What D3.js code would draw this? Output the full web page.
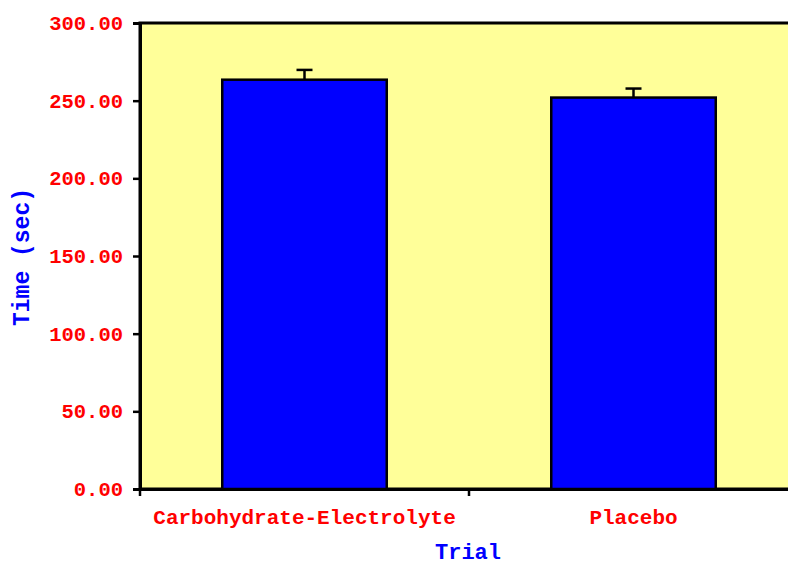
<!DOCTYPE html>
<html><head><meta charset="utf-8">
<script src="https://cdn.jsdelivr.net/npm/d3@7"></script>
<style>body{margin:0;background:#fff}svg{display:block}</style>
</head><body>
<svg id="c" width="788" height="567"></svg>
<script>
const categories = ["Carbohydrate-Electrolyte", "Placebo"];
const means = [263.5, 252.0];
const errors = [6.3, 5.8];
const yTicks = [0, 50, 100, 150, 200, 250, 300];
const xTitle = "Trial";
const yTitle = "Time (sec)";

const svg = d3.select("#c");
const pL = 140, pT = 23, pR = 798, pB = 489;
const font = "'Liberation Mono', 'Courier New', monospace";

const x = d3.scaleBand().domain(categories).range([pL, pR]).paddingInner(0).paddingOuter(0);
const y = d3.scaleLinear().domain([0, 300]).range([pB, pT]);

svg.append("rect").attr("x", pL).attr("y", pT).attr("width", pR - pL).attr("height", pB - pT)
  .attr("fill", "#ffff99").attr("stroke", "#000").attr("stroke-width", 3);

const bw = x.bandwidth() * 0.5;
svg.selectAll(".bar").data(categories).join("rect")
  .attr("x", d => x(d) + (x.bandwidth() - bw) / 2)
  .attr("y", (d, i) => y(means[i]))
  .attr("width", bw)
  .attr("height", (d, i) => y(0) - y(means[i]))
  .attr("fill", "#0000ff").attr("stroke", "#000").attr("stroke-width", 2.5);

const eb = svg.append("g").attr("stroke", "#000").attr("stroke-width", 2.5);
categories.forEach((c, i) => {
  const cx = x(c) + x.bandwidth() / 2;
  eb.append("line").attr("x1", cx).attr("x2", cx).attr("y1", y(means[i])).attr("y2", y(means[i] + errors[i]));
  eb.append("line").attr("x1", cx - 8).attr("x2", cx + 8).attr("y1", y(means[i] + errors[i])).attr("y2", y(means[i] + errors[i]));
});

// y axis
const ya = svg.append("g").attr("transform", `translate(${pL},0)`)
  .call(d3.axisLeft(y).tickValues(yTicks).tickFormat(d3.format(".2f")).tickSize(7).tickPadding(10));
ya.select(".domain").attr("stroke-width", 3);
ya.selectAll(".tick line").attr("stroke-width", 2.5);
ya.selectAll("text").attr("fill", "#ff0000").style("font-family", font).style("font-weight", "bold").style("font-size", "20.5px");

// x axis
const xa = svg.append("g").attr("transform", `translate(0,${pB})`)
  .call(d3.axisBottom(x).tickSize(0).tickPadding(20));
xa.select(".domain").attr("stroke-width", 3);
xa.selectAll("text").attr("fill", "#ff0000").style("font-family", font).style("font-weight", "bold").style("font-size", "21px");
const bounds = [pL, x(categories[1]), pR];
xa.selectAll(".btick").data(bounds).join("line")
  .attr("x1", d => d).attr("x2", d => d).attr("y1", 0).attr("y2", 7)
  .attr("stroke", "#000").attr("stroke-width", 2.5);

svg.append("text").attr("x", 468).attr("y", 559).attr("text-anchor", "middle")
  .attr("fill", "#0000ff").style("font-family", font).style("font-weight", "bold").style("font-size", "22px").text(xTitle);
svg.append("text").attr("transform", "translate(29,257) rotate(-90)").attr("text-anchor", "middle")
  .attr("fill", "#0000ff").style("font-family", font).style("font-weight", "bold").style("font-size", "23px").text(yTitle);
</script>
</body></html>
